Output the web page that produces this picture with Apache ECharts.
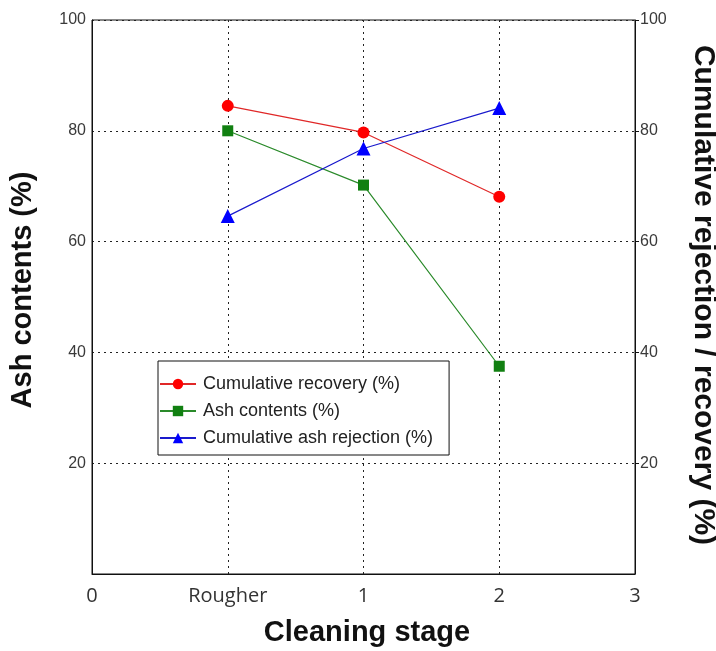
<!DOCTYPE html>
<html>
<head>
<meta charset="utf-8">
<script src="https://cdn.jsdelivr.net/npm/echarts@6/dist/echarts.min.js"></script>
<style>
  html, body { margin: 0; padding: 0; background: #fff; }
  #chart { width: 716px; height: 651px; }
</style>
</head>
<body>
<div id="chart"></div>
<script>
// Cleaning stages along the x axis (first and last are empty end positions)
const stages = ['0', 'Rougher', '1', '2', '3'];
// Percent values per stage
const cumulativeRecovery = [null, 84.5, 79.7, 68.1, null];
const ashContents = [null, 80.0, 70.2, 37.5, null];
const cumulativeAshRejection = [null, 64.6, 76.8, 84.1, null];
const yTicks = [0, 20, 40, 60, 80, 100];

const sans = 'Liberation Sans, Arial, sans-serif';
const tickFont = { fontFamily: sans, fontSize: 16, color: '#3a3a3a' };
const dotted = { type: [2, 4], color: '#222', width: 1 };
const titleStyle = { fontFamily: sans, fontWeight: 'bold', fontSize: 29, fill: '#111', textAlign: 'center', textVerticalAlign: 'middle' };

const chart = echarts.init(document.getElementById('chart'), null, { renderer: 'canvas' });

chart.setOption({
  animation: false,
  backgroundColor: '#fff',
  grid: { left: 92, right: 81, top: 20, bottom: 77, show: true, borderColor: '#111', borderWidth: 1 },
  xAxis: {
    type: 'category',
    data: stages,
    boundaryGap: false,
    axisLine: { lineStyle: { color: '#111' } },
    axisTick: { show: false },
    axisLabel: { fontFamily: 'Open Sans, sans-serif', fontSize: 20, color: '#333', margin: 12 },
    splitLine: { show: true, lineStyle: dotted }
  },
  yAxis: [
    {
      type: 'value',
      min: yTicks[0],
      max: yTicks[yTicks.length - 1],
      interval: 20,
      axisLine: { show: true, lineStyle: { color: '#111' } },
      axisTick: { show: false },
      axisLabel: Object.assign({ showMinLabel: false, margin: 6 }, tickFont),
      splitLine: { show: true, lineStyle: dotted }
    },
    {
      type: 'value',
      position: 'right',
      min: yTicks[0],
      max: yTicks[yTicks.length - 1],
      interval: 20,
      axisLine: { show: true, lineStyle: { color: '#111' } },
      axisTick: { show: true, length: 4, inside: false, lineStyle: { color: '#111' } },
      axisLabel: Object.assign({ showMinLabel: false, margin: 5 }, tickFont),
      splitLine: { show: false }
    }
  ],
  legend: {
    orient: 'vertical',
    left: 158,
    top: 361,
    itemWidth: 36,
    itemHeight: 13,
    itemGap: 9,
    padding: [14, 16, 8, 1],
    borderColor: '#111',
    borderWidth: 1,
    backgroundColor: '#fff',
    textStyle: { fontFamily: sans, fontSize: 18, color: '#222', padding: [0, 0, 0, 2] },
    data: ['Cumulative recovery (%)', 'Ash contents (%)', 'Cumulative ash rejection (%)']
  },
  graphic: [
    {
      type: 'text',
      x: 23,
      y: 290,
      rotation: Math.PI / 2,
      style: Object.assign({ text: 'Ash contents (%)' }, titleStyle)
    },
    {
      type: 'text',
      x: 703,
      y: 295,
      rotation: -Math.PI / 2,
      style: Object.assign({ text: 'Cumulative rejection / recovery (%)' }, titleStyle, { fontSize: 30 })
    },
    {
      type: 'text',
      x: 367,
      y: 633,
      style: Object.assign({ text: 'Cleaning stage' }, titleStyle)
    }
  ],
  series: [
    {
      name: 'Cumulative recovery (%)',
      type: 'line',
      data: cumulativeRecovery,
      symbol: 'circle',
      symbolSize: 12,
      lineStyle: { color: '#e02828', width: 1.2 },
      itemStyle: { color: '#ff0000' },
      z: 3
    },
    {
      name: 'Ash contents (%)',
      type: 'line',
      data: ashContents,
      symbol: 'rect',
      symbolSize: 11,
      lineStyle: { color: '#2a8a2a', width: 1.2 },
      itemStyle: { color: '#118011' },
      z: 3
    },
    {
      name: 'Cumulative ash rejection (%)',
      type: 'line',
      data: cumulativeAshRejection,
      symbol: 'triangle',
      symbolSize: 14,
      lineStyle: { color: '#1a1acc', width: 1.2 },
      itemStyle: { color: '#0000ff' },
      z: 3
    }
  ]
});
</script>
</body>
</html>
